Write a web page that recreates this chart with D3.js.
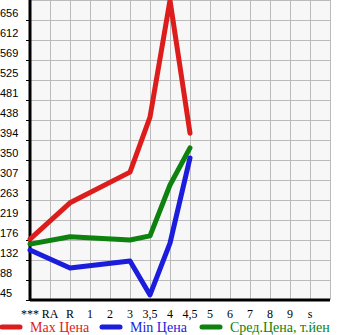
<!DOCTYPE html>
<html lang="ru">
<head>
    <meta charset="UTF-8">
    <title>Цены</title>
    <script src="https://d3js.org/d3.v7.min.js"></script>
    <style>
        * { margin: 0; padding: 0; }
        body { background: #fff; }
        svg { display: block; }
        .y-label { font-family: "Liberation Sans", sans-serif; font-size: 11px; fill: #000; }
        .x-label { font-family: "Liberation Serif", serif; font-size: 12px; fill: #000; }
        .legend text { font-family: "Liberation Serif", serif; font-size: 14px; }
    </style>
</head>
<body>
<div id="chart"></div>
<script>
    // данные графика
    const categories = ["***", "RA", "R", "1", "2", "3", "3,5", "4", "4,5", "5", "6", "7", "8", "9", "s"];
    const maxPrice = [178, null, 257, null, null, 324, 444, 699, 409, null, null, null, null, null, null];
    const minPrice = [154, null, 115, null, null, 130, 56, 169, 355, null, null, null, null, null, null];
    const avgPrice = [167, null, 183, null, null, 176, 185, 296, 377, null, null, null, null, null, null];
    const yTickLabels = ["45", "88", "132", "176", "219", "263", "307", "350", "394", "438", "481", "525", "569", "612", "656"];

    const width = 345, height = 335;
    const plotLeft = 30, plotTop = 0, plotW = 300, plotH = 300;

    const svg = d3.select("#chart").append("svg")
        .attr("width", width)
        .attr("height", height);

    // шаг шкалы по меткам
    const yMin = +yTickLabels[0];
    const step = (+yTickLabels[yTickLabels.length - 1] - yMin) / (yTickLabels.length - 1);
    const y = d3.scaleLinear()
        .domain([yMin, yMin + step * yTickLabels.length])
        .range([plotTop + plotH, plotTop]);

    const x = d3.scalePoint()
        .domain(categories)
        .range([plotLeft, plotLeft + plotW - 20]);

    // фон
    svg.append("rect")
        .attr("x", plotLeft).attr("y", plotTop)
        .attr("width", plotW).attr("height", plotH)
        .attr("fill", "#f7f7f7");

    // сетка
    const grid = svg.append("g").attr("stroke", "#bbbbbb").attr("stroke-width", 1);
    categories.forEach(c => {
        grid.append("line")
            .attr("x1", x(c) + 20 + 0.5).attr("x2", x(c) + 20 + 0.5)
            .attr("y1", plotTop).attr("y2", plotTop + plotH);
    });
    yTickLabels.forEach((t, i) => {
        const yy = Math.round(y(yMin + step * i)) + 0.5;
        grid.append("line")
            .attr("x1", plotLeft).attr("x2", plotLeft + plotW)
            .attr("y1", yy).attr("y2", yy);
    });
    grid.append("line")
        .attr("x1", plotLeft).attr("x2", plotLeft + plotW)
        .attr("y1", plotTop + 0.5).attr("y2", plotTop + 0.5);

    // оси
    const yAxis = svg.append("g");
    yTickLabels.forEach((t, i) => {
        const yy = Math.round(y(yMin + step * i));
        yAxis.append("line")
            .attr("x1", plotLeft - 4).attr("x2", plotLeft)
            .attr("y1", yy + 0.5).attr("y2", yy + 0.5)
            .attr("stroke", "#000");
        yAxis.append("text")
            .attr("class", "y-label")
            .attr("x", 0).attr("y", yy - 3)
            .text(t);
    });

    const xAxis = svg.append("g");
    categories.forEach(c => {
        xAxis.append("text")
            .attr("class", "x-label")
            .attr("x", x(c)).attr("y", 318)
            .attr("text-anchor", "middle")
            .text(c);
    });

    svg.append("line")
        .attr("x1", plotLeft).attr("x2", plotLeft)
        .attr("y1", plotTop).attr("y2", plotTop + plotH + 1)
        .attr("stroke", "#000").attr("stroke-width", 3);
    svg.append("line")
        .attr("x1", plotLeft).attr("x2", plotLeft + plotW)
        .attr("y1", plotTop + plotH).attr("y2", plotTop + plotH)
        .attr("stroke", "#000").attr("stroke-width", 3);

    // линии
    const series = [
        { name: "Max Цена", values: maxPrice, color: "#dd1c1c" },
        { name: "Min Цена", values: minPrice, color: "#1c1cdd" },
        { name: "Сред.Цена, т.йен", values: avgPrice, color: "#0e820e" }
    ];

    const line = d3.line()
        .x(d => x(d.c))
        .y(d => y(d.v));

    // обрезаем только сверху
    svg.append("clipPath").attr("id", "plotClip")
        .append("rect").attr("x", 0).attr("y", plotTop)
        .attr("width", width).attr("height", height);

    series.slice().reverse().forEach(s => {
        const pts = categories.map((c, i) => ({ c: c, v: s.values[i] })).filter(d => d.v !== null);
        svg.append("path")
            .datum(pts)
            .attr("d", line)
            .attr("fill", "none")
            .attr("stroke", s.color)
            .attr("stroke-width", 5)
            .attr("stroke-linejoin", "round")
            .attr("stroke-linecap", "round")
            .attr("clip-path", "url(#plotClip)");
    });

    // легенда
    const legend = svg.append("g").attr("class", "legend");
    const legendX = [0, 100, 200];
    series.forEach((s, i) => {
        legend.append("line")
            .attr("x1", legendX[i] + 2).attr("x2", legendX[i] + 20)
            .attr("y1", 327).attr("y2", 327)
            .attr("stroke", s.color)
            .attr("stroke-width", 5)
            .attr("stroke-linecap", "round");
        legend.append("text")
            .attr("x", legendX[i] + 30).attr("y", 332)
            .attr("fill", s.color)
            .text(s.name);
    });
</script>
</body>
</html>
